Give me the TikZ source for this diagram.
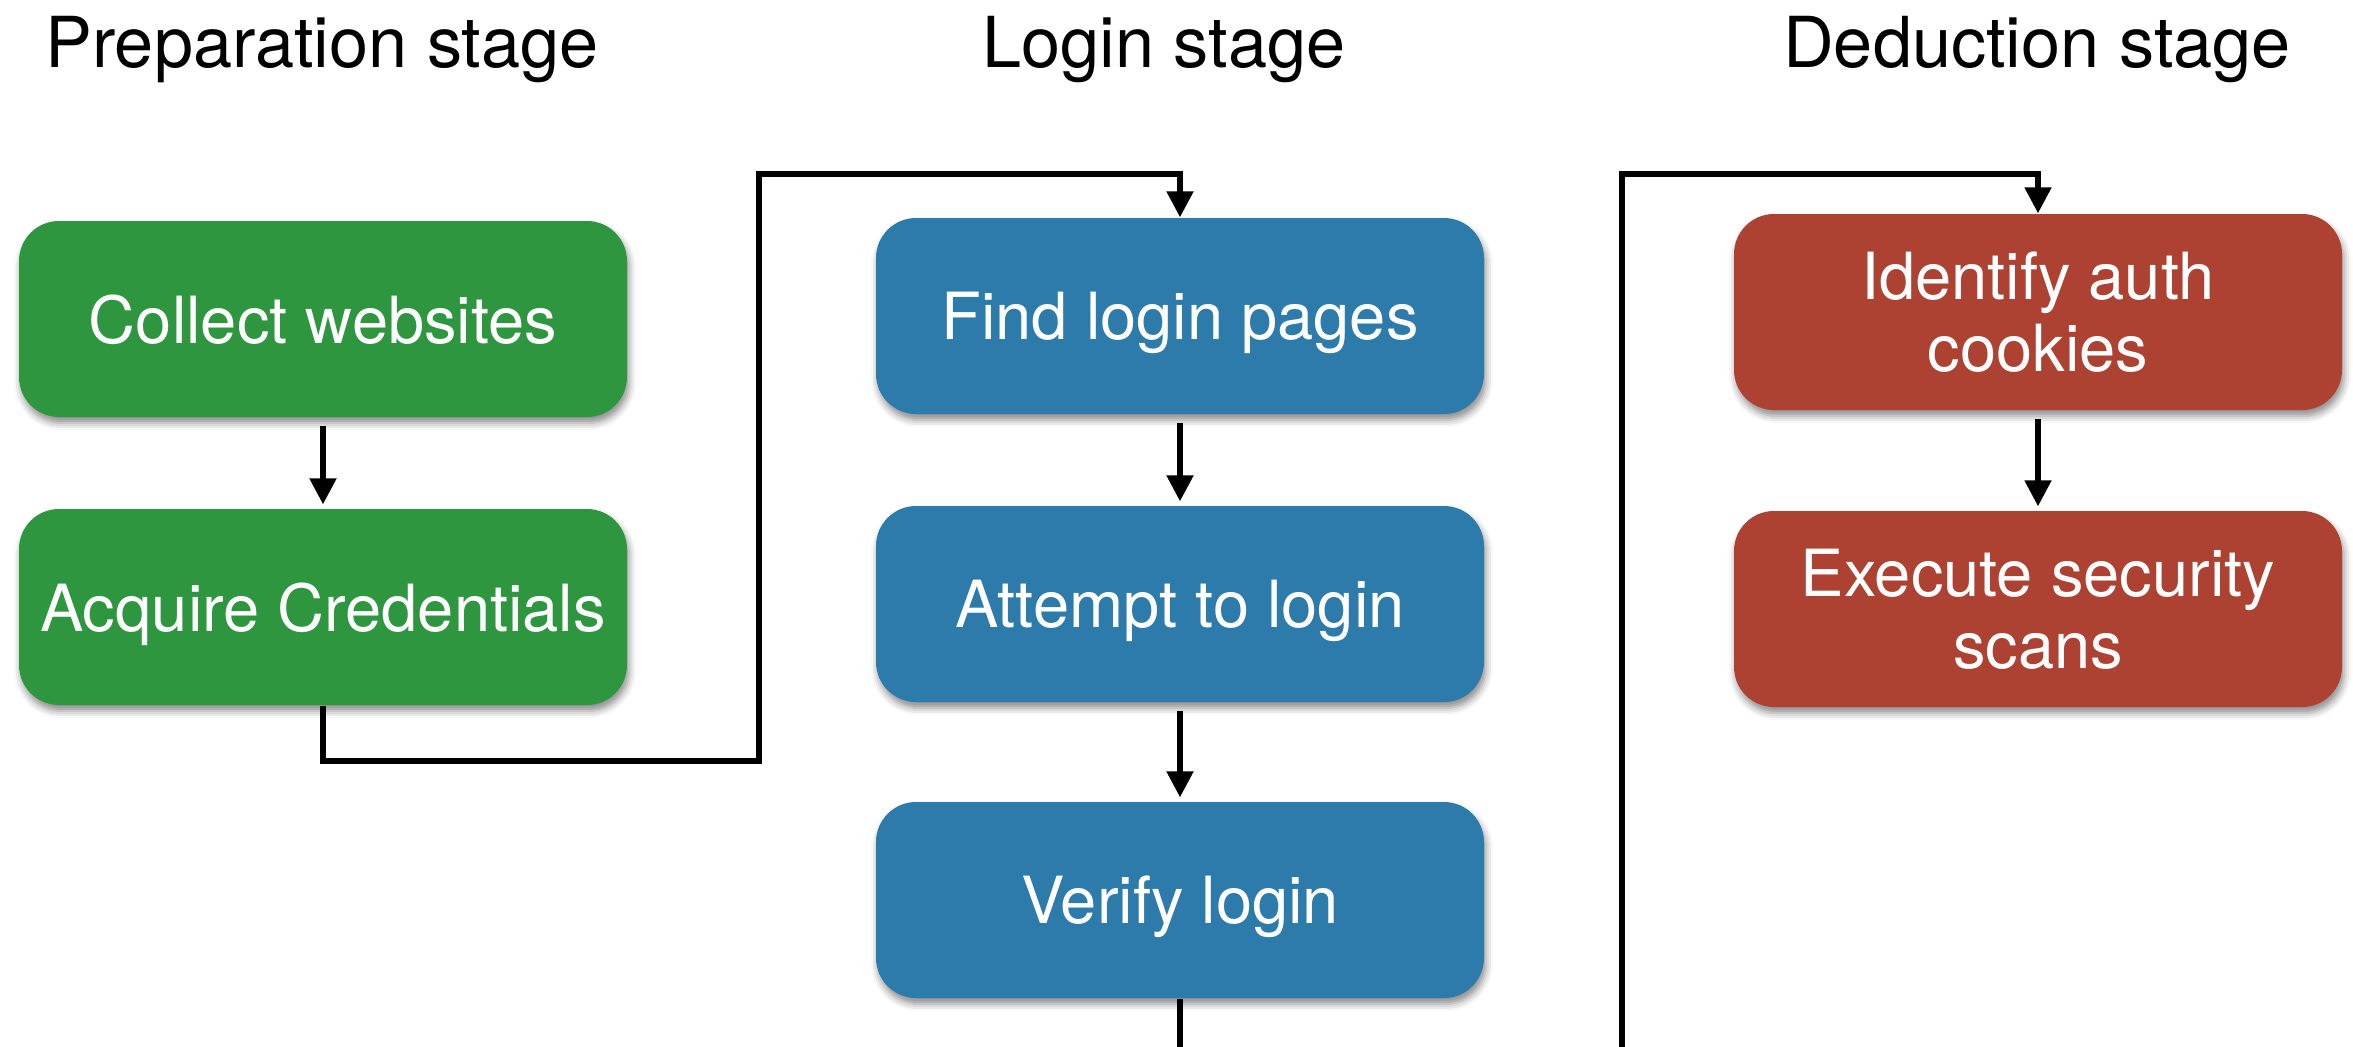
\documentclass[tikz,border=0pt]{standalone}
\usepackage{fontspec}
\setmainfont{TeX Gyre Heros}
\usetikzlibrary{arrows.meta,shadows.blur}
\definecolor{prepgreen}{RGB}{47,150,64}
\definecolor{loginblue}{RGB}{45,123,171}
\definecolor{deducred}{RGB}{173,66,50}
\begin{document}
\begin{tikzpicture}[x=0.1mm,y=-0.1mm,
  stepbox/.style={rectangle, rounded corners=4mm, minimum width=60.8mm,
    minimum height=19.6mm, inner sep=0pt, text=white, align=center,
    text depth=0pt, font=\fontsize{18.5}{20.5}\selectfont,
    blur shadow={shadow xshift=0.2mm, shadow yshift=-0.6mm,
      shadow blur radius=0.7mm, shadow opacity=45}},
  prep/.style={stepbox, fill=prepgreen},
  login/.style={stepbox, fill=loginblue},
  deduc/.style={stepbox, fill=deducred},
  stagetitle/.style={anchor=base, inner sep=0pt, font=\fontsize{20}{24}\selectfont},
  link/.style={line width=0.52mm, line join=miter},
  flow/.style={link, -{Triangle[width=2.6mm,length=2.6mm]}},
  gapflow/.style={flow, shorten <=0.8mm, shorten >=0.4mm}]
\useasboundingbox (0,0) rectangle (2353,1047);

% stage headings
\node[stagetitle] (tprep) at (322,68) {Preparation stage};
\node[stagetitle] (tlogin) at (1164,68) {Login stage};
\node[stagetitle] (tdeduc) at (2037,68) {Deduction stage};

% preparation stage
\node[prep] (collect) at (323,319) {Collect websites};
\node[prep] (acquire) at (323,607) {Acquire Credentials};

% login stage
\node[login] (find) at (1180,316) {Find login pages};
\node[login] (attempt) at (1180,604) {Attempt to login};
\node[login] (verify) at (1180,900) {Verify login};

% deduction stage
\node[deduc] (identify) at (2038,312) {Identify auth\\cookies};
\node[deduc] (execute) at (2038,609) {Execute security\\scans};

% arrows inside each stage
\draw[gapflow] (collect) -- (acquire);
\draw[gapflow] (find) -- (attempt);
\draw[gapflow] (attempt) -- (verify);
\draw[gapflow] (identify) -- (execute);

% links between stages
\coordinate (p1) at (759,761);
\coordinate (p2) at (1180,174);
\draw[flow] (acquire.south) |- (p1) |- (p2) -- (find.north);

\coordinate (vend) at (1180,1047);
\draw[link] (verify.south) -- (vend);

\coordinate (dstart) at (1622,1047);
\coordinate (p3) at (2038,174);
\draw[flow] (dstart) |- (p3) -- (identify.north);
\end{tikzpicture}
\end{document}
